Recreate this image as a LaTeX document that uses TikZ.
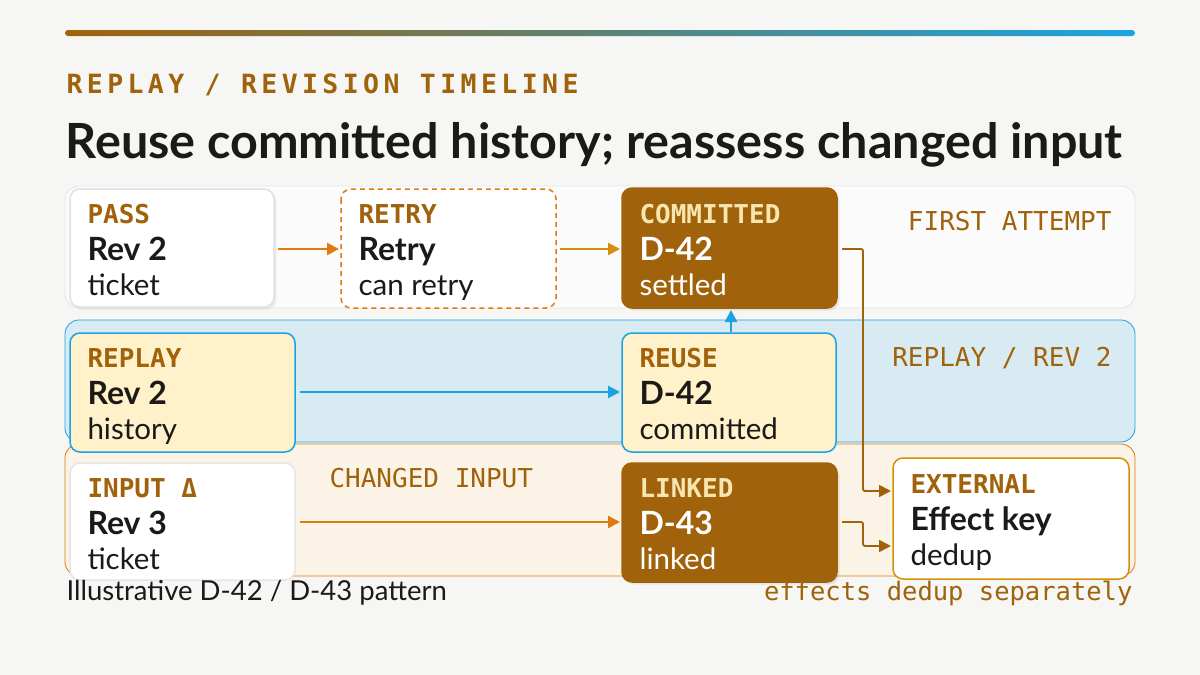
\documentclass[tikz,border=0pt]{standalone}
\usepackage{fontspec}
\setmainfont{Lato}
\newfontfamily\mono{DejaVu Sans Mono}
\usetikzlibrary{arrows.meta,shadows}
\definecolor{bg}{HTML}{F6F6F4}
\definecolor{brn}{HTML}{A0620A}
\definecolor{org}{HTML}{E07A10}
\definecolor{gld}{HTML}{D4900A}
\definecolor{blu}{HTML}{1AA3E0}
\definecolor{ink}{HTML}{1C1A18}
\definecolor{cream}{HTML}{FFF2CA}
\definecolor{lbl}{HTML}{F8E6B0}
\definecolor{lblue}{HTML}{D8EBF3}
\begin{document}
\begin{tikzpicture}[x=1pt,y=-1pt,
  lane/.style={rounded corners=14pt,line width=0.8pt},
  box/.style={rounded corners=10pt,line width=1.5pt},
  arr/.style={line width=2.4pt,-{Triangle[length=12pt,width=12pt]}},
  lab/.style={anchor=base west,font=\mono\bfseries\fontsize{26}{26}\selectfont},
  big/.style={anchor=base west,font=\bfseries\fontsize{32}{32}\selectfont},
  sub/.style={anchor=base west,font=\fontsize{29.5}{29.5}\selectfont},
  lanetxt/.style={font=\mono\fontsize{26}{26}\selectfont,text=brn}]
\fill[bg] (0,0) rectangle (1200,675);
\useasboundingbox (0,0) rectangle (1200,675);
\shade[left color=brn,right color=blu,rounded corners=3pt] (65,30) rectangle (1135,36);
\node[anchor=base west,text=brn,font=\mono\bfseries\fontsize{26.5}{26.5}\selectfont] (kick) at (63,93) {R\,E\,P\,L\,A\,Y\, /\, R\,E\,V\,I\,S\,I\,O\,N\, T\,I\,M\,E\,L\,I\,N\,E};
\node[anchor=base west,text=ink,font=\bfseries\fontsize{48.5}{48.5}\selectfont] (title) at (62,158) {Reuse committed history; reassess changed input};
% lanes
\draw[lane,draw=black!10,fill=white!60!bg] (65,186) rectangle (1135,308);
\draw[lane,draw=blu,fill=lblue] (65,320) rectangle (1135,442);
\draw[lane,draw=org,fill=gld!10!white] (65,444) rectangle (1135,576);
\node[lanetxt,anchor=base east] (l1) at (1115,230) {FIRST ATTEMPT};
\node[lanetxt,anchor=base east] (l2) at (1115,366) {REPLAY / REV 2};
\node[lanetxt,anchor=base west] (l3) at (326,487) {CHANGED INPUT};
% boxes
\draw[box,draw=black!12,fill=white,drop shadow={opacity=0.12}] (70,189) rectangle (274,307);
\node[lab,text=brn] (pass) at (84,223) {PASS};
\node[big,text=ink] (passm) at (84,260) {Rev 2};
\node[sub,text=ink] (passs) at (84,295) {ticket};
\draw[box,draw=org,dash pattern=on 5pt off 4pt,fill=white] (341,189) rectangle (556,308);
\node[lab,text=brn] (retry) at (355,223) {RETRY};
\node[big,text=ink] (retrym) at (355,260) {Retry};
\node[sub,text=ink] (retrys) at (355,295) {can retry};
\draw[box,draw=brn,fill=brn,drop shadow={opacity=0.15}] (622,188) rectangle (837,308);
\node[lab,text=lbl] (com) at (636,223) {COMMITTED};
\node[big,text=white] (comm) at (636,260) {D-42};
\node[sub,text=white] (coms) at (636,295) {settled};
\draw[box,draw=blu,fill=cream] (70,333) rectangle (295,452);
\node[lab,text=brn] (rep) at (84,367) {REPLAY};
\node[big,text=ink] (repm) at (84,404) {Rev 2};
\node[sub,text=ink] (reps) at (84,439) {history};
\draw[box,draw=blu,fill=cream] (622,333) rectangle (836,452);
\node[lab,text=brn] (reu) at (636,367) {REUSE};
\node[big,text=ink] (reum) at (636,404) {D-42};
\node[sub,text=ink] (reus) at (636,439) {committed};
\draw[box,draw=black!10,fill=white] (70,463) rectangle (295,580);
\node[lab,text=brn] (inp) at (84,497) {INPUT Δ};
\node[big,text=ink] (inpm) at (84,534) {Rev 3};
\node[sub,text=ink] (inps) at (84,569) {ticket};
\draw[box,draw=brn,fill=brn,drop shadow={opacity=0.15}] (622,463) rectangle (837,582);
\node[lab,text=lbl] (lnk) at (636,497) {LINKED};
\node[big,text=white] (lnkm) at (636,534) {D-43};
\node[sub,text=white] (lnks) at (636,569) {linked};
\draw[box,draw=gld,fill=white] (893,458) rectangle (1129,579);
\node[lab,text=brn] (ext) at (907,493) {EXTERNAL};
\node[big,text=ink] (extm) at (907,530) {Effect key};
\node[sub,text=ink] (exts) at (907,565) {dedup};
% connectors
\coordinate (a1) at (278,249); \coordinate (a2) at (339,249);
\coordinate (b1) at (560,249); \coordinate (b2) at (620,249);
\coordinate (c1) at (300,392); \coordinate (c2) at (620,392);
\coordinate (d1) at (300,522); \coordinate (d2) at (620,522);
\coordinate (e1) at (731,332); \coordinate (e2) at (731,310);
\coordinate (f1) at (842,249); \coordinate (f2) at (891,491);
\coordinate (g1) at (842,522); \coordinate (g2) at (891,546);
\draw[arr,org] (a1) -- (a2);
\draw[arr,gld] (b1) -- (b2);
\draw[arr,blu] (c1) -- (c2);
\draw[arr,org] (d1) -- (d2);
\draw[arr,blu] (e1) -- (e2);
\draw[arr,brn,line width=1.8pt,rounded corners=2pt] (f1) -- (863,249) -- (863,491) -- (f2);
\draw[arr,brn,line width=1.8pt,rounded corners=2pt] (g1) -- (863,522) -- (863,546) -- (g2);
\node[anchor=base west,text=ink,font=\fontsize{27.5}{27.5}\selectfont] (foot) at (63,600) {Illustrative D-42 / D-43 pattern};
\node[anchor=base east,text=brn,font=\mono\fontsize{25.5}{25.5}\selectfont] (foot2) at (1136,600) {effects dedup separately};
\end{tikzpicture}
\end{document}
